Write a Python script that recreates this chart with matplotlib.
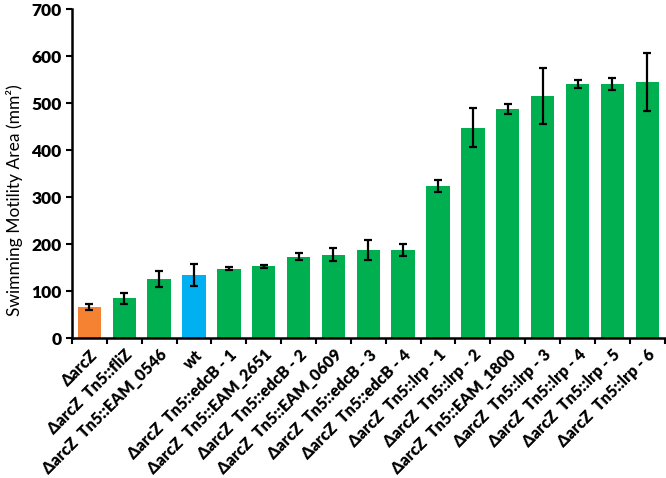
import matplotlib
matplotlib.use('Agg')
import matplotlib.pyplot as plt
from matplotlib.ticker import FixedLocator
import numpy as np

plt.rcParams['font.family'] = ['Lato', 'DejaVu Sans']

strains = ['ΔarcZ', 'ΔarcZ  Tn5::fliZ', 'ΔarcZ  Tn5::EAM_0546', 'wt',
           'ΔarcZ  Tn5::edcB - 1', 'ΔarcZ  Tn5::EAM_2651', 'ΔarcZ  Tn5::edcB - 2',
           'ΔarcZ  Tn5::EAM_0609', 'ΔarcZ  Tn5::edcB - 3', 'ΔarcZ  Tn5::edcB - 4',
           'ΔarcZ  Tn5::lrp - 1', 'ΔarcZ  Tn5::lrp - 2', 'ΔarcZ  Tn5::EAM_1800',
           'ΔarcZ  Tn5::lrp - 3', 'ΔarcZ  Tn5::lrp - 4', 'ΔarcZ  Tn5::lrp - 5',
           'ΔarcZ  Tn5::lrp - 6']
area = [67, 85, 127, 135, 148, 153, 174, 178, 188, 188,
        324, 448, 488, 515, 541, 541, 545]
err = [6, 12, 17, 24, 3, 4, 8, 14, 22, 12,
       13, 41, 10, 59, 9, 12, 62]
kind = ['mut', 'tn', 'tn', 'wt'] + ['tn'] * 13

col = {'mut': '#F58233', 'tn': '#00B050', 'wt': '#00B0F0'}
colors = [col[k] for k in kind]

fig = plt.figure(figsize=(6.66, 4.78), dpi=100)
ax = fig.add_axes([0.108, 0.292, 0.890, 0.689])

x = np.arange(len(strains))
ax.bar(x, area, width=0.67, color=colors, zorder=2)
ax.errorbar(x, area, yerr=err, fmt='none', ecolor='black', elinewidth=1.6,
            capsize=3, capthick=1.6, zorder=3)

ax.set_xlim(-0.5, len(strains) - 0.5)
ax.set_ylim(0, 700)
ax.set_yticks(range(0, 701, 100))
ax.set_xticks(x)
ax.set_xticklabels(strains, rotation=45, ha='right', rotation_mode='anchor',
                   fontsize=11.5, fontweight='heavy')
ax.xaxis.set_minor_locator(FixedLocator(np.arange(-0.5, len(strains), 1.0)))
ax.tick_params(axis='x', which='major', length=0, pad=6)
ax.tick_params(axis='x', which='minor', length=4, width=1.5, direction='out')
ax.tick_params(axis='y', length=4, width=1.5, labelsize=12.5)
for lab in ax.get_yticklabels():
    lab.set_fontweight('heavy')

ax.set_ylabel('Swimming Motility Area (mm²)', fontsize=12.5)
ax.yaxis.set_label_coords(-0.082, 0.42)

for s in ['top', 'right']:
    ax.spines[s].set_visible(False)
for s in ['left', 'bottom']:
    ax.spines[s].set_linewidth(1.8)

fig.savefig('out.png', dpi=100)
